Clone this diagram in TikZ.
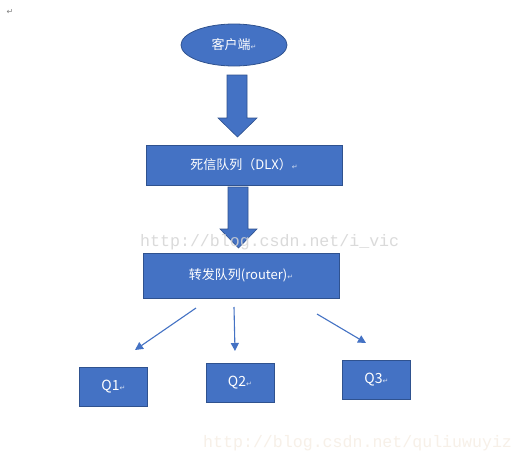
\documentclass[tikz,border=0pt]{standalone}
\usepackage{fontspec}
\newfontfamily\cjkfont{Noto Sans CJK SC}
\newfontfamily\retfont{DejaVu Sans}
\newfontfamily\wmfont{Liberation Mono}
\usetikzlibrary{arrows.meta,shapes.geometric}
\definecolor{mblue}{HTML}{4472C4}
\definecolor{mborder}{HTML}{2F528F}
\definecolor{wmgray}{HTML}{D4D4D4}
\newcommand{\retmark}{{\retfont\fontsize{7}{8}\selectfont\color{white!75!mblue}\symbol{"21B5}}}
\tikzset{
  boxnode/.style={draw=mborder, line width=0.8pt, fill=mblue, text=white, inner sep=0pt,
    font=\cjkfont\fontsize{13}{15}\selectfont},
  qbox/.style={boxnode, minimum width=68pt, minimum height=39pt, font=\cjkfont\fontsize{14}{16}\selectfont},
  blockarrow/.style={draw=mborder, line width=0.6pt, fill=mblue},
  thinarrow/.style={draw=mblue, line width=1.1pt, -{Triangle[length=8pt,width=8pt]}},
  watermark/.style={text=wmgray, font=\wmfont\fontsize{16.6}{18}\selectfont, inner sep=0pt, anchor=base west}
}
\begin{document}
\begin{tikzpicture}[x=1pt,y=-1pt]
\useasboundingbox[fill=white] (0,0) rectangle (523,461);
% top-left return mark
\node[inner sep=0pt, text=gray] (ret) at (10,12) {\retfont\fontsize{8}{9}\selectfont\symbol{"21B5}};
% nodes
\node[boxnode, ellipse, minimum width=106pt, minimum height=42pt] (client) at (234,45) {客户端\retmark};
\node[boxnode, minimum width=196pt, minimum height=40pt] (dlx) at (244,165) {死信队列（DLX）\retmark};
\node[boxnode, minimum width=196pt, minimum height=45pt] (router) at (241,275.5) {转发队列(router)\retmark};
\node[qbox] (q1) at (113.5,386.5) {Q1\retmark};
\node[qbox] (q2) at (240,382.5) {Q2\retmark};
\node[qbox] (q3) at (376.5,379.5) {Q3\retmark};
% block arrows
\draw[blockarrow] (227,75) -- (247,75) -- (247,118) -- (257,118) -- (237.5,137) -- (218,118) -- (227,118) -- cycle;
\draw[blockarrow] (228,187) -- (248,187) -- (248,229) -- (257,229) -- (238.5,248) -- (220,229) -- (228,229) -- cycle;
% thin arrows
\coordinate (s1) at (196,308);
\coordinate (e1) at (135,350);
\coordinate (s2) at (234,307);
\coordinate (e2) at (235,351);
\coordinate (s3) at (317,314);
\coordinate (e3) at (366,343);
\draw[thinarrow] (s1) -- (e1);
\draw[thinarrow] (s2) -- (e2);
\draw[thinarrow] (s3) -- (e3);
% watermarks
\node[watermark, opacity=0.85] (wm1) at (140,246) {http://blog.csdn.net/i\_vic};
\node[watermark, text=white!88!brown] (wm2) at (203,447) {http://blog.csdn.net/quliuwuyiz};
\end{tikzpicture}
\end{document}
